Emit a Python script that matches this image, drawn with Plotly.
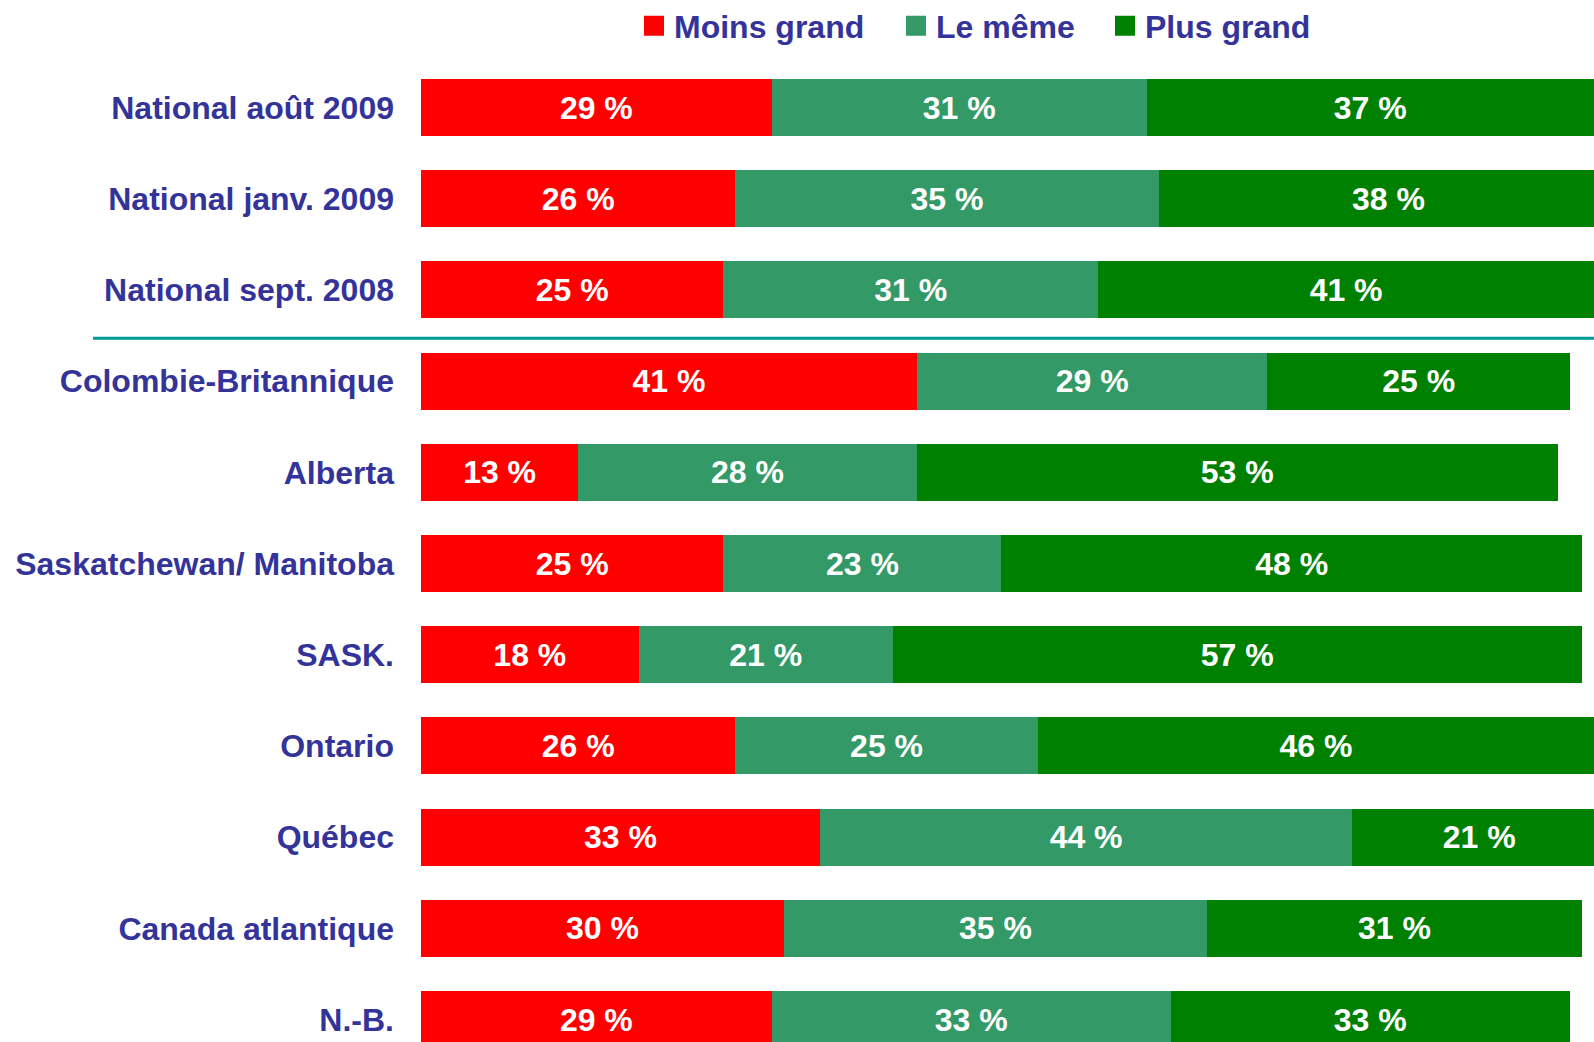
import plotly.graph_objects as go

categories = [
    "National août 2009",
    "National janv. 2009",
    "National sept. 2008",
    "Colombie-Britannique",
    "Alberta",
    "Saskatchewan/ Manitoba",
    "SASK.",
    "Ontario",
    "Québec",
    "Canada atlantique",
    "N.-B.",
]
moins_grand = [29, 26, 25, 41, 13, 25, 18, 26, 33, 30, 29]
le_meme = [31, 35, 31, 29, 28, 23, 21, 25, 44, 35, 33]
plus_grand = [37, 38, 41, 25, 53, 48, 57, 46, 21, 31, 33]

series = [
    ("Moins grand", moins_grand, "#FF0000"),
    ("Le même", le_meme, "#339966"),
    ("Plus grand", plus_grand, "#008000"),
]
legend_ids = ["legend", "legend2", "legend3"]
legend_left_px = [634, 896, 1105]

BOLD = "Liberation Sans, Arial, sans-serif"

fig = go.Figure()
for name, vals, color in series:
    fig.add_trace(go.Bar(
        name=name,
        y=categories,
        x=vals,
        orientation="h",
        marker=dict(color=color, line=dict(width=0)),
        texttemplate="%{x} %",
        textposition="inside",
        insidetextanchor="middle",
        textangle=0,
        textfont=dict(family=BOLD, size=32, color="white", weight="bold"),
        hoverinfo="skip",
        showlegend=False,
        legendgroup=name,
    ))

# legend entries (square swatches), one legend box per series
for (name, vals, color), lid in zip(series, legend_ids):
    fig.add_trace(go.Scatter(
        name=name,
        x=[None],
        y=[None],
        mode="markers",
        marker=dict(symbol="square", size=16, color=color,
                    line=dict(color=color, width=4)),
        showlegend=True,
        legendgroup=name,
        legend=lid,
        hoverinfo="skip",
    ))

W, H = 1594, 1042
L, T = 421, 60
plot_w = W - L
plot_h = H - T

legend_common = dict(
    orientation="h",
    xanchor="left",
    y=1 + (T - 26) / plot_h,
    yanchor="middle",
    font=dict(family=BOLD, size=32, color="#333399", weight="bold"),
    itemwidth=30,
    itemsizing="trace",
    bgcolor="rgba(0,0,0,0)",
)
legends = {}
for lid, px in zip(legend_ids, legend_left_px):
    legends[lid] = dict(legend_common, x=(px - L) / plot_w)

fig.update_layout(
    width=W,
    height=H,
    barmode="stack",
    bargap=0.375,
    plot_bgcolor="white",
    paper_bgcolor="white",
    margin=dict(l=L, r=0, t=T, b=0, pad=0, autoexpand=False),
    xaxis=dict(
        range=[0, 97.0],
        showgrid=False,
        zeroline=False,
        showticklabels=False,
        showline=False,
        fixedrange=True,
    ),
    yaxis=dict(
        type="category",
        categoryorder="array",
        categoryarray=categories,
        range=[(H - 107.5) / 91.2, (T - 107.5) / 91.2],
        showgrid=False,
        zeroline=False,
        showline=False,
        ticks="",
        ticklabelstandoff=26,
        tickfont=dict(family=BOLD, size=32, color="#333399", weight="bold"),
    ),
    shapes=[dict(
        type="line",
        xref="paper",
        yref="y",
        x0=(93 - L) / plot_w,
        x1=1.0,
        y0=2.53,
        y1=2.53,
        line=dict(color="#009999", width=3),
        layer="above",
    )],
    **legends,
)

fig.write_html(
    "out.html",
    config={"displayModeBar": False},
    post_script="document.body.style.margin='0';document.body.style.overflow='hidden';",
)
